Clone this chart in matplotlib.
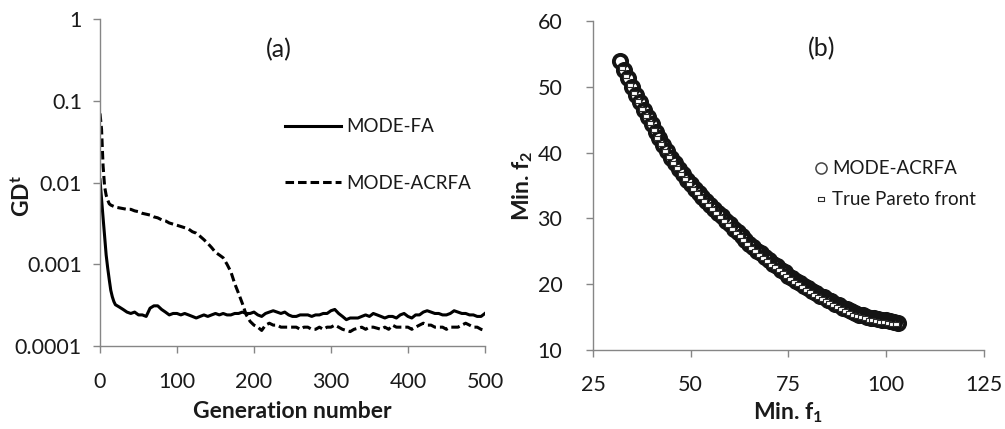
import matplotlib
matplotlib.use("Agg")
import matplotlib.pyplot as plt
from matplotlib.ticker import FixedLocator, FixedFormatter

plt.rcParams['font.family'] = ['Lato', 'DejaVu Sans']
plt.rcParams['mathtext.fontset'] = 'custom'
plt.rcParams['mathtext.rm'] = 'Lato'
plt.rcParams['mathtext.bf'] = 'Lato:bold'
plt.rcParams['mathtext.it'] = 'Lato:italic'

# ---- (a) convergence of GD over generations ----
generations = [0, 2, 4, 6, 8, 10, 12, 14, 16, 18, 20] + list(range(25, 501, 5))

gd_mode_fa = [
    0.0108, 0.0063, 0.0037, 0.0022, 0.0013, 0.0009, 0.00065, 0.00048, 0.00040, 0.00035, 0.00032,
    # 25 .. 70
    0.00030, 0.00028, 0.00026, 0.00025, 0.00026, 0.00024, 0.00024, 0.00023, 0.00029, 0.00031,
    # 75 .. 120
    0.00031, 0.00028, 0.00026, 0.00024, 0.00025, 0.00025, 0.00024, 0.00025, 0.00024, 0.00023,
    # 125 .. 170
    0.00022, 0.00023, 0.00024, 0.00023, 0.00024, 0.00025, 0.00024, 0.00025, 0.00024, 0.00024,
    # 175 .. 220
    0.00025, 0.00025, 0.00026, 0.00025, 0.00025, 0.00026, 0.00024, 0.00023, 0.00025, 0.00026,
    # 225 .. 270
    0.00027, 0.00026, 0.00025, 0.00026, 0.00024, 0.00023, 0.00023, 0.00024, 0.00024, 0.00024,
    # 275 .. 320
    0.00023, 0.00024, 0.00024, 0.00025, 0.00025, 0.00027, 0.00028, 0.00025, 0.00023, 0.00021,
    # 325 .. 370
    0.00022, 0.00022, 0.00022, 0.00023, 0.00024, 0.00023, 0.00025, 0.00024, 0.00023, 0.00022,
    # 375 .. 420
    0.00023, 0.00023, 0.00022, 0.00024, 0.00025, 0.00023, 0.00022, 0.00024, 0.00024, 0.00026,
    # 425 .. 470
    0.00027, 0.00026, 0.00025, 0.00025, 0.00024, 0.00024, 0.00025, 0.00027, 0.00026, 0.00025,
    # 475 .. 500
    0.00025, 0.00024, 0.00024, 0.00023, 0.00023, 0.00025,
]

gd_mode_acrfa = [
    0.070, 0.045, 0.016, 0.0089, 0.0070, 0.0061, 0.0055, 0.0053, 0.0052, 0.0051, 0.0050,
    # 25 .. 70
    0.0049, 0.0048, 0.0047, 0.0047, 0.0045, 0.0044, 0.0042, 0.0041, 0.0040, 0.0038,
    # 75 .. 120
    0.0037, 0.0035, 0.0034, 0.0032, 0.0031, 0.0030, 0.0029, 0.0028, 0.0027, 0.0025,
    # 125 .. 170
    0.0024, 0.0022, 0.0020, 0.0018, 0.0016, 0.0014, 0.0013, 0.0012, 0.0010, 0.00081,
    # 175 .. 220
    0.00058, 0.00044, 0.00033, 0.00024, 0.00020, 0.00018, 0.00017, 0.000155, 0.00018, 0.00019,
    # 225 .. 270
    0.00018, 0.00018, 0.00017, 0.00017, 0.00017, 0.00017, 0.00017, 0.00016, 0.00017, 0.00017,
    # 275 .. 320
    0.00016, 0.00016, 0.00017, 0.00016, 0.00017, 0.00017, 0.00018, 0.00017, 0.00016, 0.000155,
    # 325 .. 370
    0.00015, 0.00016, 0.000165, 0.00017, 0.00016, 0.00017, 0.00017, 0.000165, 0.00016, 0.00017,
    # 375 .. 420
    0.00016, 0.00018, 0.00017, 0.00017, 0.00017, 0.00017, 0.00016, 0.00017, 0.00018, 0.00019,
    # 425 .. 470
    0.00018, 0.00018, 0.00017, 0.00017, 0.00017, 0.00016, 0.00017, 0.00017, 0.00017, 0.00018,
    # 475 .. 500
    0.00019, 0.00018, 0.00017, 0.00017, 0.00016, 0.000155,
]

gd_ticks = [0.0001, 0.001, 0.01, 0.1, 1]
gd_tick_labels = ['0.0001', '0.001', '0.01', '0.1', '1']
gen_ticks = [0, 100, 200, 300, 400, 500]

# ---- (b) obtained front vs true Pareto front ----
acrfa_f1 = [32, 33, 34, 35, 36, 37, 38, 39, 40, 41, 42, 43, 44, 45, 46, 47, 48, 49, 50, 51,
            52, 53, 54, 55, 56, 57, 58, 59, 60, 61, 62, 63, 64, 65, 66, 67, 68, 69, 70, 71,
            72, 73, 74, 75, 76, 77, 78, 79, 80, 81, 82, 83, 84, 85, 86, 87, 88, 89, 90, 91,
            92, 93, 94, 95, 96, 97, 98, 99, 100, 101, 102, 103]
acrfa_f2 = [54.0, 52.6, 51.4, 50.0, 48.8, 47.7, 46.5, 45.4, 44.4, 43.2, 42.2, 41.1, 40.2, 39.2,
            38.4, 37.5, 36.8, 35.9, 35.3, 34.5, 33.9, 33.2, 32.7, 32.0, 31.5, 30.8, 30.3, 29.6,
            29.1, 28.4, 28.0, 27.3, 26.8, 26.1, 25.7, 25.1, 24.7, 24.1, 23.7, 23.1, 22.8, 22.2,
            21.9, 21.3, 21.0, 20.5, 20.2, 19.7, 19.4, 18.9, 18.6, 18.2, 18.0, 17.6, 17.4, 17.0,
            16.8, 16.4, 16.2, 15.9, 15.7, 15.4, 15.3, 15.0, 14.9, 14.8, 14.7, 14.6, 14.5, 14.4,
            14.3, 14.1]

true_f1 = [32.5, 33.5, 34.5, 35.5, 36.5, 37.5, 38.5, 39.5, 40.5, 41.5, 42.5, 43.5, 44.5, 45.5,
           46.5, 47.5, 48.5, 49.5, 50.5, 51.5, 52.5, 53.5, 54.5, 55.5, 56.5, 57.5, 58.5, 59.5,
           60.5, 61.5, 62.5, 63.5, 64.5, 65.5, 66.5, 67.5, 68.5, 69.5, 70.5, 71.5, 72.5, 73.5,
           74.5, 75.5, 76.5, 77.5, 78.5, 79.5, 80.5, 81.5, 82.5, 83.5, 84.5, 85.5, 86.5, 87.5,
           88.5, 89.5, 90.5, 91.5, 92.5, 93.5, 94.5, 95.5, 96.5, 97.5, 98.5, 99.5, 100.5, 101.5,
           102.5]
true_f2 = [52.9, 51.6, 50.3, 49.1, 47.9, 46.7, 45.6, 44.5, 43.4, 42.3, 41.3, 40.3, 39.3, 38.4,
           37.6, 36.8, 36.0, 35.2, 34.5, 33.8, 33.2, 32.6, 32.0, 31.4, 30.8, 30.2, 29.6, 29.0,
           28.4, 27.8, 27.3, 26.7, 26.1, 25.5, 25.0, 24.5, 24.0, 23.5, 23.0, 22.6, 22.1, 21.7,
           21.2, 20.8, 20.4, 20.0, 19.6, 19.2, 18.8, 18.4, 18.0, 17.7, 17.4, 17.1, 16.8, 16.5,
           16.2, 15.9, 15.7, 15.4, 15.2, 15.0, 14.8, 14.6, 14.5, 14.4, 14.3, 14.2, 14.1, 14.0,
           13.9]

f1_ticks = [25, 50, 75, 100, 125]
f2_ticks = [10, 20, 30, 40, 50, 60]

axis_grey = '#868686'
text_col = '#1a1a1a'

fig = plt.figure(figsize=(10.05, 4.29), dpi=100)
ax_a = fig.add_axes([0.0995, 0.1935, 0.383, 0.762])
ax_b = fig.add_axes([0.590, 0.184, 0.389, 0.767])


def style_axes(ax, xpad, ypad, size):
    for side in ('top', 'right'):
        ax.spines[side].set_visible(False)
    for side in ('left', 'bottom'):
        ax.spines[side].set_color(axis_grey)
        ax.spines[side].set_linewidth(1.0)
    ax.tick_params(axis='both', which='major', direction='out', length=5, width=1.0,
                   color=axis_grey, labelsize=size, labelcolor=text_col)
    ax.tick_params(axis='x', pad=xpad)
    ax.tick_params(axis='y', pad=ypad)
    ax.tick_params(which='minor', length=0)


# panel (a)
ax_a.plot(generations, gd_mode_fa, color='black', lw=2.2, label='MODE-FA')
ax_a.plot(generations, gd_mode_acrfa, color='black', lw=2.2, dashes=(2.8, 1.3),
          label='MODE-ACRFA')
ax_a.set_yscale('log')
ax_a.set_ylim(0.0001, 1)
ax_a.set_xlim(0, 500)
ax_a.yaxis.set_major_locator(FixedLocator(gd_ticks))
ax_a.yaxis.set_major_formatter(FixedFormatter(gd_tick_labels))
ax_a.yaxis.set_minor_locator(FixedLocator([]))
ax_a.set_xticks(gen_ticks)
style_axes(ax_a, xpad=14, ypad=8, size=15.5)
ax_a.set_xlabel('Generation number', fontsize=16.5, fontweight='bold', color=text_col,
                labelpad=6)
ax_a.set_ylabel(r'GD$^{\mathbf{t}}$', fontsize=16.5, fontweight='bold', color=text_col)
ax_a.yaxis.set_label_coords(-0.172, 0.46)
ax_a.text(0.465, 0.905, '(a)', transform=ax_a.transAxes, fontsize=18, color=text_col,
          ha='center', va='center')
ax_a.legend(loc='upper left', bbox_to_anchor=(0.455, 0.725), frameon=False, fontsize=13.5,
            handlelength=3.0, handletextpad=0.3, labelspacing=2.1, borderpad=0,
            labelcolor=text_col)

# panel (b)
ax_b.plot(acrfa_f1, acrfa_f2, linestyle='none', marker='o', markersize=9.5,
          markerfacecolor='none', markeredgecolor='#141414', markeredgewidth=2.8,
          label='MODE-ACRFA')
rect = [(-1, -0.55), (1, -0.55), (1, 0.55), (-1, 0.55), (-1, -0.55)]
ax_b.plot(true_f1, true_f2, linestyle='none', marker=rect, markersize=4,
          markerfacecolor='white', markeredgecolor='#2a2a2a', markeredgewidth=0.8,
          label='True Pareto front')
ax_b.set_xlim(25, 125)
ax_b.set_ylim(10, 60)
ax_b.set_xticks(f1_ticks)
ax_b.set_yticks(f2_ticks)
style_axes(ax_b, xpad=13, ypad=17, size=15.5)
ax_b.set_xlabel(r'Min. f$_{\mathbf{1}}$', fontsize=16.5, fontweight='bold', color=text_col,
                labelpad=4)
ax_b.set_ylabel(r'Min. f$_{\mathbf{2}}$', fontsize=16.5, fontweight='bold', color=text_col,
                labelpad=2)
ax_b.text(0.586, 0.915, '(b)', transform=ax_b.transAxes, fontsize=18, color=text_col,
          ha='center', va='center')
leg = ax_b.legend(loc='upper left', bbox_to_anchor=(0.545, 0.605), frameon=False,
                  fontsize=13.5, handlelength=0.6, handletextpad=0.3, labelspacing=0.75,
                  borderpad=0, labelcolor=text_col)
leg.legend_handles[0].set_markersize(8)
leg.legend_handles[0].set_markeredgewidth(1.1)
leg.legend_handles[0].set_markeredgecolor('#444444')

fig.savefig('out.png', dpi=100)
